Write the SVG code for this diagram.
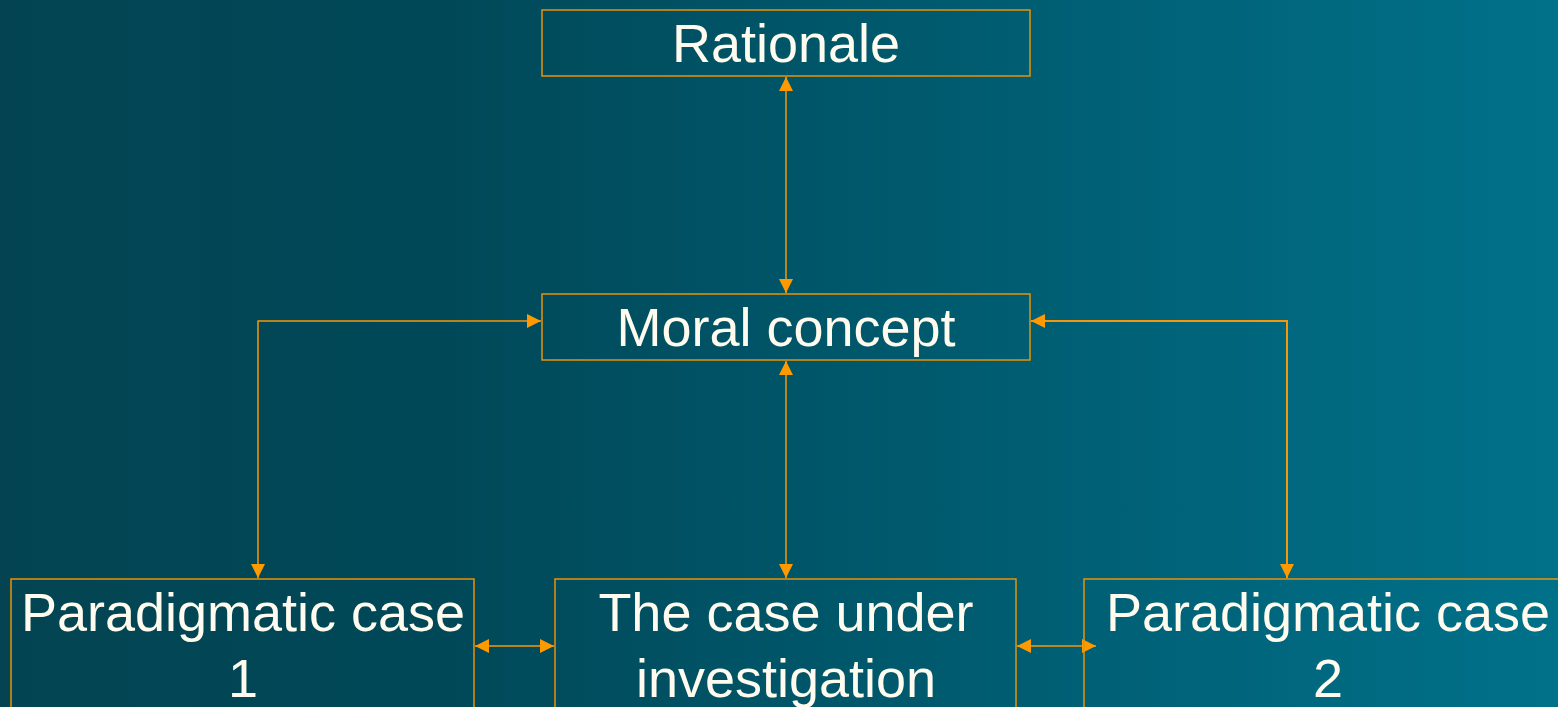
<svg xmlns="http://www.w3.org/2000/svg" width="1558" height="707" viewBox="0 0 1558 707">
<defs>
<linearGradient id="bg" x1="0" y1="0" x2="1" y2="0">
<stop offset="0" stop-color="#044452"/>
<stop offset="0.28" stop-color="#004858"/>
<stop offset="1" stop-color="#00718a"/>
</linearGradient>
<marker id="ah" viewBox="0 0 14 14" refX="14" refY="7" markerWidth="14" markerHeight="14" markerUnits="userSpaceOnUse" orient="auto-start-reverse">
<path d="M0,0 L14,7 L0,14 Z" fill="#ff9900"/>
</marker>
<style>
.box{fill:none;stroke:#e8920a;stroke-width:1.5}
.lbl{font-family:"Liberation Sans",Arial,sans-serif;font-size:54px;fill:#fffbee;text-anchor:middle}
.con{fill:none;stroke:#f5970a;stroke-width:1.5;marker-start:url(#ah);marker-end:url(#ah)}
</style>
</defs>
<rect width="1558" height="707" fill="url(#bg)"/>
<g id="connectors">
<path class="con" d="M786,77 L786,293"/>
<path class="con" d="M786,361 L786,578"/>
<path class="con" d="M541,321 L258,321 L258,578"/>
<path class="con" d="M1031,321 L1287,321 L1287,578" style="stroke-width:2"/>
<path class="con" d="M475,646 L554,646"/>
<path class="con" d="M1017,646 L1096,646"/>
</g>
<g id="rationale">
<rect class="box" x="542" y="10" width="488" height="66"/>
<text class="lbl" x="786" y="62">Rationale</text>
</g>
<g id="moral-concept">
<rect class="box" x="542" y="294" width="488" height="66"/>
<text class="lbl" x="786" y="346">Moral concept</text>
</g>
<g id="paradigmatic-case-1">
<rect class="box" x="11" y="579" width="463" height="140"/>
<text class="lbl" x="243" y="631">Paradigmatic case</text>
<text class="lbl" x="243" y="697">1</text>
</g>
<g id="case-under-investigation">
<rect class="box" x="555" y="579" width="461" height="140"/>
<text class="lbl" x="786" y="631">The case under</text>
<text class="lbl" x="786" y="697">investigation</text>
</g>
<g id="paradigmatic-case-2">
<rect class="box" x="1084" y="579" width="490" height="140"/>
<text class="lbl" x="1328" y="631">Paradigmatic case</text>
<text class="lbl" x="1328" y="697">2</text>
</g>
</svg>
